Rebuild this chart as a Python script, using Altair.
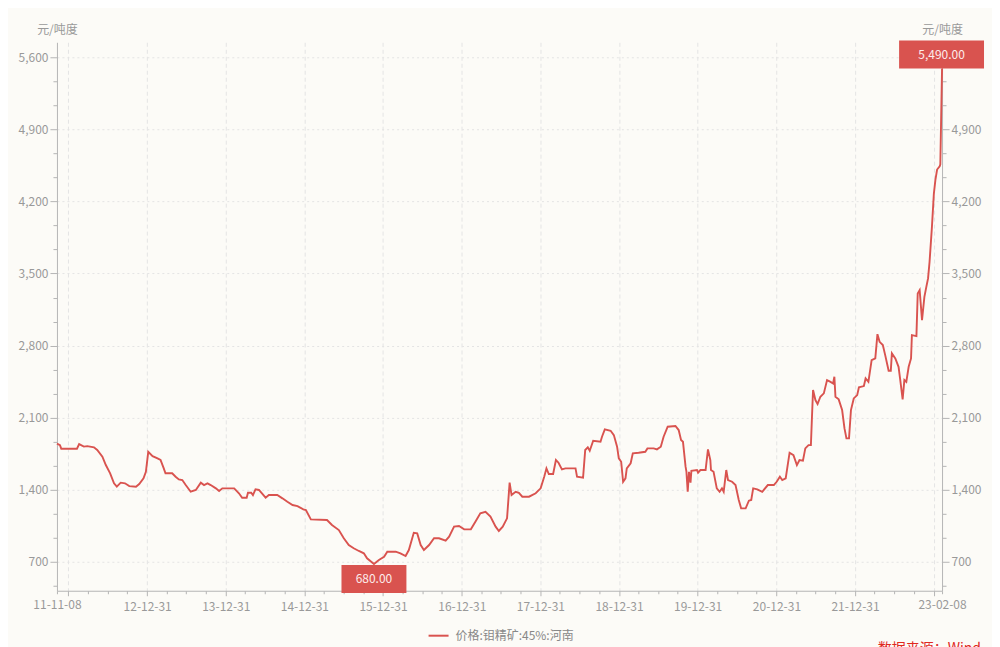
import altair as alt
import pandas as pd

# ---------------- data ----------------
dates = [
"2011-11-08","2011-11-22","2011-11-28","2012-02-09","2012-02-19","2012-03-12","2012-03-28","2012-04-28",
"2012-05-13","2012-06-06","2012-06-22","2012-07-12","2012-07-30","2012-08-12","2012-08-30","2012-09-19",
"2012-10-09","2012-11-09","2012-11-24","2012-12-14","2012-12-25","2013-01-05","2013-01-25","2013-02-17",
"2013-03-03","2013-03-18","2013-03-26","2013-04-26","2013-05-12","2013-05-27","2013-06-12","2013-06-28",
"2013-07-21","2013-08-14","2013-09-06","2013-09-21","2013-10-07","2013-10-22","2013-11-15","2013-11-30",
"2013-12-15","2014-02-08","2014-03-02","2014-03-17","2014-04-07","2014-04-13","2014-04-28","2014-05-06",
"2014-05-18","2014-06-03","2014-07-04","2014-07-19","2014-08-27","2014-09-20","2014-10-13","2014-11-06",
"2014-11-29","2014-12-26","2015-01-07","2015-01-30","2015-04-15","2015-05-08","2015-06-09","2015-07-02",
"2015-07-25","2015-08-17","2015-09-10","2015-10-03","2015-10-18","2015-11-19","2015-12-12","2016-01-05",
"2016-01-20","2016-02-28","2016-03-21","2016-04-14","2016-04-29","2016-05-22","2016-06-07","2016-06-23",
"2016-07-08","2016-08-01","2016-08-24","2016-09-16","2016-10-17","2016-11-02","2016-11-25","2016-12-18",
"2017-01-11","2017-02-11","2017-03-04","2017-03-27","2017-04-20","2017-05-13","2017-06-06","2017-06-21",
"2017-07-09","2017-07-29","2017-08-10","2017-08-19","2017-09-07","2017-09-22","2017-10-08","2017-11-08",
"2017-12-09","2018-01-01","2018-01-18","2018-01-28","2018-02-08","2018-02-28","2018-03-13","2018-03-25",
"2018-04-10","2018-04-26","2018-06-12","2018-06-19","2018-07-17","2018-07-27","2018-08-08","2018-08-17",
"2018-09-02","2018-10-06","2018-10-13","2018-10-26","2018-11-22","2018-12-07","2018-12-22","2018-12-30",
"2019-01-10","2019-01-19","2019-01-30","2019-02-05","2019-02-23","2019-03-05","2019-04-01","2019-05-02",
"2019-05-12","2019-06-10","2019-06-25","2019-07-13","2019-07-26","2019-08-14","2019-09-19","2019-10-04",
"2019-10-15","2019-10-24","2019-11-05","2019-11-09","2019-11-15","2019-11-21","2019-11-28","2019-12-02",
"2019-12-28","2020-01-02","2020-01-13","2020-02-06","2020-02-17","2020-02-28","2020-03-02","2020-03-14",
"2020-03-29","2020-04-11","2020-04-22","2020-04-30","2020-05-12","2020-05-20","2020-06-08","2020-06-24",
"2020-07-09","2020-07-20","2020-08-10","2020-08-25","2020-09-05","2020-09-14","2020-10-03","2020-10-26",
"2020-11-21","2020-12-19","2021-01-01","2021-01-16","2021-01-27","2021-02-12","2021-02-19","2021-03-02",
"2021-03-20","2021-04-05","2021-04-17","2021-05-03","2021-05-14","2021-05-29","2021-06-09","2021-06-14",
"2021-06-19","2021-06-30","2021-07-10","2021-07-23","2021-08-08","2021-08-23","2021-09-08","2021-09-20",
"2021-09-26","2021-10-01","2021-10-16","2021-11-01","2021-11-12","2021-11-21","2021-12-03","2021-12-12",
"2021-12-25","2022-01-10","2022-01-18","2022-02-10","2022-02-18","2022-03-03","2022-03-18","2022-04-04",
"2022-04-14","2022-04-24","2022-05-09","2022-05-20","2022-06-05","2022-06-15","2022-06-20","2022-07-06",
"2022-07-21","2022-07-29","2022-08-09","2022-08-17","2022-08-26","2022-09-06","2022-09-17","2022-09-21",
"2022-10-12","2022-10-18","2022-10-27","2022-11-07","2022-11-18","2022-11-27","2022-12-05","2022-12-12",
"2022-12-23","2023-01-01","2023-01-08","2023-01-16","2023-01-28","2023-01-31","2023-02-08",
]
prices = [
1850,1835,1800,1800,1845,1820,1825,1813,
1787,1722,1641,1561,1464,1431,1470,1464,
1437,1431,1457,1512,1576,1770,1728,1706,
1690,1609,1561,1561,1528,1502,1496,1447,
1382,1399,1470,1447,1464,1447,1415,1389,
1415,1415,1367,1324,1324,1372,1372,1350,
1405,1399,1324,1350,1350,1318,1285,1253,
1243,1211,1204,1114,1108,1059,1010,930,
865,833,807,784,736,680,719,751,
800,800,784,758,816,984,978,865,
816,865,930,930,907,946,1043,1049,
1017,1017,1091,1172,1188,1140,1043,1001,
1043,1124,1470,1350,1382,1372,1334,1334,
1367,1415,1530,1609,1554,1554,1690,1664,
1599,1609,1609,1528,1518,1787,1813,1780,
1877,1867,1916,1988,1974,1932,1819,1706,
1673,1479,1512,1609,1658,1755,1761,1770,
1803,1803,1793,1819,1916,2013,2020,1981,
1884,1867,1625,1577,1382,1576,1470,1586,
1593,1567,1593,1593,1793,1690,1593,1576,
1415,1382,1415,1382,1593,1496,1479,1447,
1302,1221,1221,1295,1302,1415,1405,1382,
1447,1447,1479,1528,1496,1512,1609,1761,
1738,1641,1690,1684,1803,1835,1835,2110,
2369,2272,2233,2304,2337,2466,2449,2433,
2498,2304,2279,2175,1997,1900,1900,2175,
2288,2320,2395,2408,2482,2449,2660,2676,
2912,2837,2806,2708,2556,2556,2725,2676,
2595,2466,2279,2466,2449,2595,2676,2903,
2893,3307,3339,3048,3274,3371,3453,3614,
3953,4277,4407,4510,4542,4560,5490,
]
series_name = "价格:钼精矿:45%:河南"
unit_label = "元/吨度"
source_label = "数据来源：Wind"
x_start, x_end = "2011-11-08", "2023-02-08"
y_domain = [421, 5745]

df = pd.DataFrame({"date": dates, "price": prices, "series": series_name})
df_min = df.loc[[df["price"].idxmin()]].assign(lab=lambda d: d["price"].map(lambda v: f"{v:,.2f}"))
df_max = df.loc[[df["price"].idxmax()]].assign(lab=lambda d: d["price"].map(lambda v: f"{v:,.2f}"))

# ---------------- styling ----------------
RED = "#d9534f"
FONT = "Noto Sans CJK SC"
GRAY = "#999999"
AXIS_C = "#b5b5b5"
GRID_C = "#e4e4e4"

def ms(s):
    return int(pd.Timestamp(s, tz="UTC").value // 10**6)

START_MS, END_MS = ms(x_start), ms(x_end)
quarter_ends = pd.date_range("2011-12-31", "2022-12-31", freq="QE")
x_ticks = [START_MS] + [ms(d.strftime("%Y-%m-%d")) for d in quarter_ends] + [END_MS]

year_end_test = "utcmonth(datum.value) == 11 && utcdate(datum.value) == 31"
x_label_expr = (
    f"(({year_end_test}) && utcyear(datum.value) > 2011 && utcyear(datum.value) < 2022)"
    f" || abs(time(datum.value) - {START_MS}) < 1000 || abs(time(datum.value) - {END_MS}) < 1000"
    " ? utcFormat(datum.value, '%y-%m-%d') : ''"
)

xscale = alt.Scale(type="utc", domain=[START_MS, END_MS], nice=False)
yscale = alt.Scale(domain=y_domain, nice=False, zero=False)

y_ticks = [700 * k / 3 for k in range(2, 25)]
major_test = "abs(datum.value % 700) < 1"

xaxis = alt.Axis(
    values=x_ticks, labelExpr=x_label_expr, title=None, labelOverlap=False, labelFlush=False,
    grid=True, gridColor=GRID_C, gridDash=[4, 3],
    gridOpacity={"condition": {"test": year_end_test, "value": 1}, "value": 0},
    tickSize={"condition": {"test": year_end_test, "value": 5}, "value": 3},
    tickColor=AXIS_C, domainColor=AXIS_C, labelColor=GRAY, labelFont=FONT,
    labelFontSize=12, labelPadding=6,
)

def yaxis(orient):
    return alt.Axis(
        orient=orient, values=y_ticks, format=",.0f",
        labelExpr=f"{major_test} ? datum.label : ''", labelOverlap=False,
        title=unit_label, titleAngle=0, titleX=0, titleY=-13, titleAlign="center",
        titleBaseline="middle", titleFont=FONT, titleFontSize=12, titleFontWeight="normal",
        titleColor=GRAY,
        grid=(orient == "left"), gridColor=GRID_C, gridDash=[2, 3],
        gridOpacity={"condition": {"test": major_test, "value": 1}, "value": 0},
        tickSize={"condition": {"test": major_test, "value": 7}, "value": 4},
        tickColor=AXIS_C, domainColor=AXIS_C, labelColor=GRAY, labelFont=FONT,
        labelFontSize=12, labelPadding=2, zindex=0,
    )

X_ENC = alt.X("date:T", scale=xscale, axis=xaxis)
Y_LEFT = alt.Y("price:Q", scale=yscale, axis=yaxis("left"))
Y_RIGHT = alt.Y("price:Q", scale=yscale, axis=yaxis("right"))

line = alt.Chart(df).mark_line(strokeWidth=1.9).encode(
    x=X_ENC,
    y=Y_LEFT,
    color=alt.Color("series:N", scale=alt.Scale(range=[RED]),
                    legend=alt.Legend(title=None, orient="none", legendX=371, legendY=583,
                                      symbolType="stroke", symbolSize=400, symbolStrokeWidth=2,
                                      labelFont=FONT, labelFontSize=12, labelColor="#888888",
                                      labelOffset=6, padding=0, direction="horizontal")),
)

def box(d, x_off, x2_off, y_off, y2_off, dy):
    r = alt.Chart(d).mark_rect(color=RED, xOffset=x_off, x2Offset=x2_off,
                               yOffset=y_off, y2Offset=y2_off).encode(
        x=X_ENC, x2="date:T", y=Y_LEFT, y2="price:Q",
    )
    t = alt.Chart(d).mark_text(color="#fdeceb", font=FONT, fontSize=12, dy=dy,
                               dx=(x_off + x2_off) / 2).encode(
        x=X_ENC, y=Y_LEFT, text="lab:N",
    )
    return r + t

min_box = box(df_min, -32.5, 32.5, 1, 29, 15)
max_box = box(df_max, -43, 42, -28, 0, -14)

src = alt.Chart(pd.DataFrame({"t": [source_label]})).mark_text(
    color="#e0281e", font=FONT, fontSize=14, align="right", baseline="alphabetic"
).encode(text="t:N", x=alt.value(925), y=alt.value(611))

inner = alt.layer(line, min_box, max_box, src)

right = alt.Chart(df).mark_line(opacity=0).encode(x=X_ENC, y=Y_RIGHT)

chart = alt.layer(inner, right).resolve_scale(y="independent").properties(
    width=886, height=549,
    padding={"left": 49, "top": 34, "right": 50, "bottom": 70},
    autosize=alt.AutoSizeParams(type="none"),
    background="#fcfbf7",
).configure_view(stroke=None)

chart.save("out.html", embed_options={"renderer": "svg", "actions": False})
